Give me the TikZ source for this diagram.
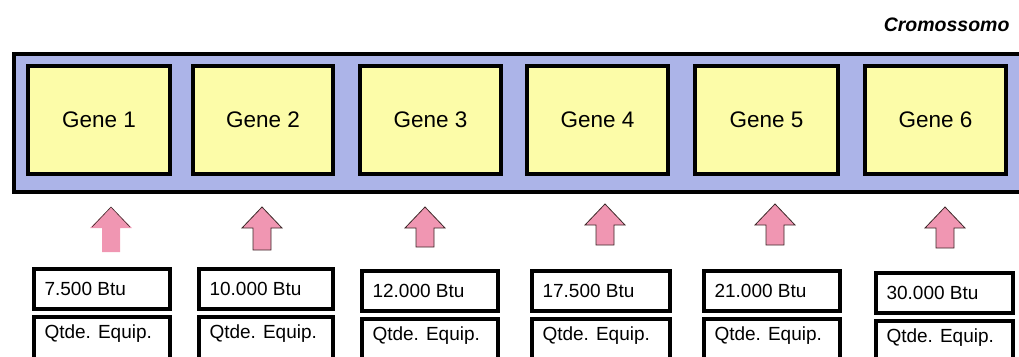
\documentclass[tikz,border=0pt]{standalone}
\usepackage{fontspec}
\setmainfont{Liberation Sans}
\definecolor{chromfill}{RGB}{172,180,232}
\definecolor{genefill}{RGB}{252,252,168}
\definecolor{arrowfill}{RGB}{240,150,178}
\definecolor{arrowline}{RGB}{60,40,40}
\tikzset{
  chrom/.style={draw=black, line width=4pt, fill=chromfill},
  genebox/.style={draw=black, line width=4pt, fill=genefill, inner sep=0pt,
     font=\fontsize{22.5}{26}\selectfont},
  valbox/.style={draw=black, line width=4pt, fill=white, inner sep=0pt},
  valtext/.style={font=\fontsize{19}{22}\selectfont, anchor=west},
  uparrow/.style={fill=arrowfill, draw=arrowline, line width=0.8pt},
}
\begin{document}
\begin{tikzpicture}[x=1pt,y=-1pt]
\useasboundingbox (0,0) rectangle (1019,356);
\begin{scope}
\clip (0,0) rectangle (1019,356);
% chromosome
\node[chrom, minimum width=1020pt, minimum height=138pt, inner sep=0pt, anchor=north west] (chrom) at (12,52) {};
\node[font=\bfseries\itshape\fontsize{19.5}{22}\selectfont, anchor=east] (title) at (1013,25) {Cromossomo};
% genes
\foreach \i/\xa/\xb in {1/28/170, 2/193/333, 3/360/501, 4/527/668, 5/695/838, 6/865/1006}{
  \node[genebox, minimum width={\xb-\xa}, minimum height=108pt] (g\i) at ({(\xa+\xb)/2},120) {Gene \i};
}
% value boxes
\foreach \i/\xa/\xb/\ya/\txt in {1/32/168/267/7.500 Btu, 2/197/331/267/10.000 Btu, 3/360/496/269/12.000 Btu, 4/530/668/269/17.500 Btu, 5/702/838/269/21.000 Btu, 6/874/1011/271/30.000 Btu}{
  \node[valbox, minimum width={\xb-\xa}, minimum height=40pt, anchor=north west] (b\i) at (\xa,\ya) {};
  \node[valtext] (bt\i) at ([xshift=9pt]b\i.west) {\txt};
  \node[valbox, minimum width={\xb-\xa}, minimum height=46pt, anchor=north west] (q\i) at (\xa,{\ya+48}) {};
  \node[valtext] (qt\i) at ([xshift=9pt, yshift=-19pt]q\i.north west) {Qtde. Equip.};
}
\end{scope}
% block arrows
\foreach \i/\cx/\ty/\by in {2/262/207/250, 3/425/207/247, 4/605/204/245, 5/775/204/245, 6/945/207/248}{
  \draw[uparrow] (\cx,\ty) -- ({\cx+20},{\ty+21}) -- ({\cx+9},{\ty+21}) -- ({\cx+9},\by) -- ({\cx-9},\by) -- ({\cx-9},{\ty+21}) -- ({\cx-20},{\ty+21}) -- cycle;
}
\fill[arrowfill] (111,207) -- (132,228) -- (120,228) -- (120,252) -- (102,252) -- (102,228) -- (90,228) -- cycle;
\draw[arrowline, line width=0.6pt] (92,227) -- (111,207) -- (130,227);
\end{tikzpicture}
\end{document}
